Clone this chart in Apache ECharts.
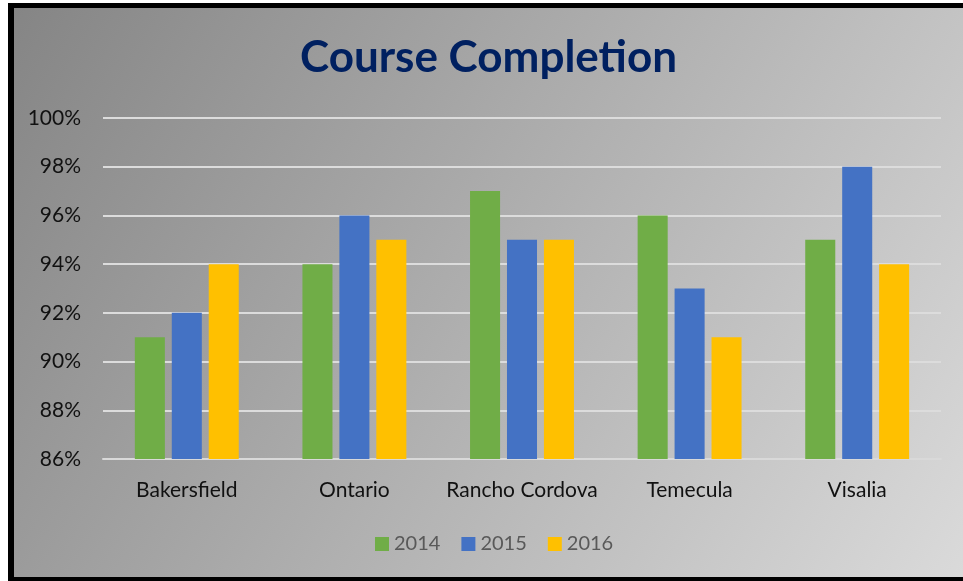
<!DOCTYPE html>
<html>
<head>
<meta charset="UTF-8">
<title>Course Completion</title>
<script src="https://cdn.jsdelivr.net/npm/echarts@6/dist/echarts.min.js"></script>
<style>
	html, body { margin: 0; padding: 0; background: #fff; }
	#frame {
		position: absolute; left: 8px; top: 3px;
		width: 955px; height: 578px; box-sizing: border-box;
		border-left: 6px solid #000; border-top: 5px solid #000; border-bottom: 4px solid #000;
	}
	#main { width: 949px; height: 569px; }
</style>
</head>
<body>
<div id="frame"><div id="main"></div></div>
<script>
// data
var campuses = ['Bakersfield', 'Ontario', 'Rancho Cordova', 'Temecula', 'Visalia'];
var years = ['2014', '2015', '2016'];
var y2014 = [91, 94, 97, 96, 95];
var y2015 = [92, 96, 95, 93, 98];
var y2016 = [94, 95, 95, 91, 94];
var colors = ['#70AD47', '#4472C4', '#FFC000'];

var font = 'Lato, "Open Sans", sans-serif';
var myChart = echarts.init(document.getElementById('main'));

function bar(name, data) {
	return { name: name, type: 'bar', data: data, barGap: '23%', barCategoryGap: '38%' };
}

myChart.setOption({
	backgroundColor: {
		type: 'linear', x: 0, y: 0, x2: 1, y2: 1,
		colorStops: [{ offset: 0, color: '#858585' }, { offset: 1, color: '#dadada' }]
	},
	color: colors,
	title: {
		text: 'Course Completion',
		left: 'center',
		top: 23,
		textStyle: { fontFamily: font, fontSize: 44, fontWeight: 'bold', color: '#002060' }
	},
	legend: {
		data: years,
		bottom: 18,
		left: 356,
		itemWidth: 14,
		itemHeight: 14,
		itemGap: 21,
		icon: 'rect',
		textStyle: { fontFamily: font, fontSize: 20, color: '#595959' }
	},
	grid: { left: 89, right: 22, top: 110, bottom: 118 },
	xAxis: {
		type: 'category',
		data: campuses,
		axisTick: { show: false },
		axisLine: { lineStyle: { color: '#d9d9d9', width: 2 } },
		axisLabel: { interval: 0, fontFamily: font, fontSize: 21, color: '#111', margin: 21 }
	},
	yAxis: {
		type: 'value',
		min: 86, max: 100, interval: 2,
		axisLine: { show: false },
		axisTick: { show: false },
		splitLine: { lineStyle: { color: '#dcdcdc', width: 2 } },
		axisLabel: { fontFamily: font, fontSize: 21, color: '#111', margin: 22, formatter: '{value}%' }
	},
	series: [bar(years[0], y2014), bar(years[1], y2015), bar(years[2], y2016)]
});
</script>
</body>
</html>
